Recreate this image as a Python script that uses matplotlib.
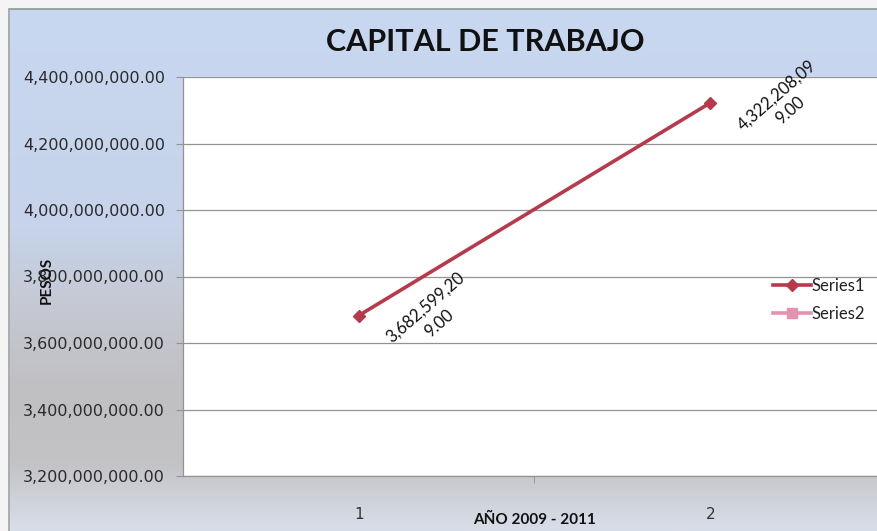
import numpy as np
import matplotlib
matplotlib.use("Agg")
import matplotlib.pyplot as plt
from matplotlib.colors import LinearSegmentedColormap
from matplotlib.lines import Line2D
from matplotlib.ticker import FuncFormatter

# Working capital data
categories = [1, 2]
series1 = [3682599209.00, 4322208099.00]
series1_labels = ["3,682,599,20\n9.00", "4,322,208,09\n9.00"]
series2 = []
y_ticks = [3.2e9, 3.4e9, 3.6e9, 3.8e9, 4.0e9, 4.2e9, 4.4e9]

W, H = 878, 531
fig = plt.figure(figsize=(W / 100, H / 100), dpi=100)
fig.patch.set_facecolor("#f4f4f4")

# Chart-area background: vertical gradient (blue on top, grey lower down)
bg = fig.add_axes([10 / W, 0, 1 - 10 / W, (H - 9) / H])
bg.set_axis_off()
stops = [(0.0, "#c8d8f0"), (0.42, "#c6d3ea"), (0.58, "#c5c8d2"),
         (0.74, "#c0bfc1"), (0.87, "#c3c3c6"), (1.0, "#d8dee9")]
cmap = LinearSegmentedColormap.from_list("bg", stops)
grad = np.linspace(0, 1, 256).reshape(-1, 1)
bg.imshow(grad, aspect="auto", cmap=cmap, extent=[0, 1, 0, 1], origin="upper")
bg.set_xlim(0, 1)
bg.set_ylim(0, 1)
# frame lines of the chart area
fig.add_artist(Line2D([10 / W, 1], [(H - 8.5) / H] * 2, color="#8a9a90", lw=1.2))
fig.add_artist(Line2D([9.5 / W] * 2, [0, (H - 8.5) / H], color="#9aa0a0", lw=1.2))

# Plot area
left_px, right_px, top_px, bot_px = 183, 886, 77, 476
ax = fig.add_axes([left_px / W, (H - bot_px) / H,
                   (right_px - left_px) / W, (bot_px - top_px) / H])
ax.set_facecolor("white")
ax.set_xlim(0.5, 2.5)
ax.set_ylim(3.2e9, 4.4e9)
ax.set_yticks(y_ticks)
ax.yaxis.set_major_formatter(FuncFormatter(lambda v, p: f"{v:,.2f}"))
ax.grid(axis="y", color="#939393", lw=0.9)
ax.set_axisbelow(True)
for s in ("top", "right"):
    ax.spines[s].set_visible(False)
for s in ("left", "bottom"):
    ax.spines[s].set_color("#939393")
    ax.spines[s].set_linewidth(0.9)

ax.set_xticks(categories)
ax.set_xticklabels([str(c) for c in categories])
ax.set_xticks([1.5], minor=True)
ax.tick_params(axis="x", which="major", length=0, pad=22, labelsize=11,
               labelcolor="#333333")
ax.tick_params(axis="x", which="minor", length=5, color="#939393")
ax.tick_params(axis="y", length=5, color="#939393", pad=8, labelsize=11.5,
               labelcolor="#2a2a2a")

c1 = "#b73a4c"
c2 = "#e591b2"
ax.plot(categories, series1, color=c1, lw=2.6, marker="D", ms=6.5,
        label="Series1", clip_on=False, zorder=3)
ax.plot([], [], color=c2, lw=2.6, marker="s", ms=6.5, label="Series2")

for x, y, lab in zip(categories, series1, series1_labels):
    ax.annotate(lab, (x, y), xytext=(53, 0), textcoords="offset points",
                rotation=41, rotation_mode="anchor", ha="center", va="center",
                multialignment="center", fontsize=12, family="Lato",
                color="#111111", linespacing=1.35, annotation_clip=False)

leg = ax.legend(loc="center left", bbox_to_anchor=(766 / W, (H - 300) / H),
                bbox_transform=fig.transFigure, frameon=False,
                prop={"family": "Lato", "size": 12}, handlelength=2.3,
                handletextpad=0.05, labelspacing=0.75, borderaxespad=0)
for t in leg.get_texts():
    t.set_color("#222222")

fig.text(485 / W, (H - 42) / H, "CAPITAL DE TRABAJO", ha="center", va="center",
         fontsize=22, fontweight="bold", family="Lato", color="#111111")
fig.text(535 / W, (H - 520) / H, "AÑO 2009 - 2011", ha="center", va="center",
         fontsize=11, fontweight="bold", family="Lato", color="#111111")
fig.text(47 / W, (H - 280) / H, "PESOS", ha="center", va="center",
         rotation=90, fontsize=11, fontweight="bold", family="Lato",
         color="#111111")

fig.savefig("out.png", dpi=100)
